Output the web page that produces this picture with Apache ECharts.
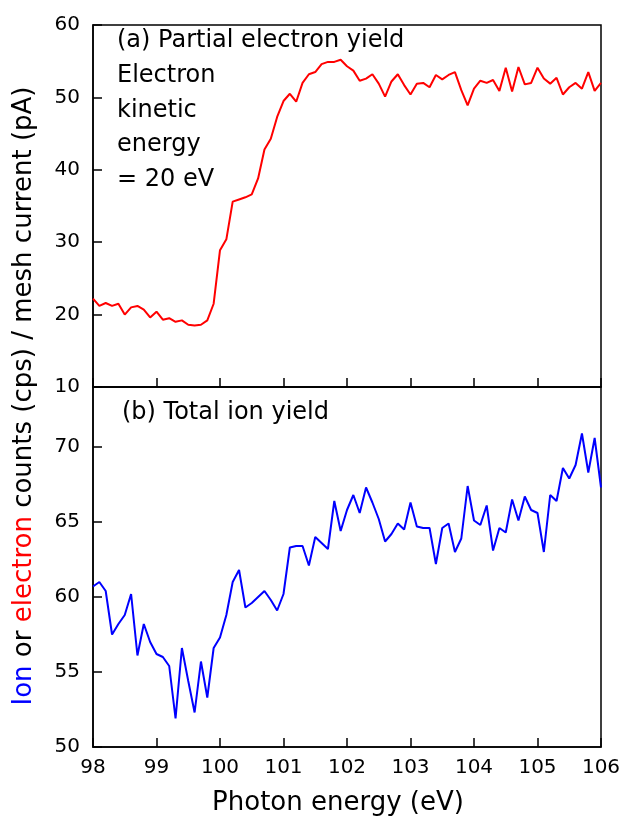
<!DOCTYPE html>
<html>
<head>
<meta charset="utf-8">
<script src="https://cdn.jsdelivr.net/npm/echarts@6/dist/echarts.min.js"></script>
<style>html,body{margin:0;padding:0;background:#fff;}#c{width:624px;height:821px;}</style>
</head>
<body>
<div id="c"></div>
<script>
var energies = [98.0,98.1,98.2,98.3,98.4,98.5,98.6,98.7,98.8,98.9,
  99.0,99.1,99.2,99.3,99.4,99.5,99.6,99.7,99.8,99.9,
  100.0,100.1,100.2,100.3,100.4,100.5,100.6,100.7,100.8,100.9,
  101.0,101.1,101.2,101.3,101.4,101.5,101.6,101.7,101.8,101.9,
  102.0,102.1,102.2,102.3,102.4,102.5,102.6,102.7,102.8,102.9,
  103.0,103.1,103.2,103.3,103.4,103.5,103.6,103.7,103.8,103.9,
  104.0,104.1,104.2,104.3,104.4,104.5,104.6,104.7,104.8,104.9,
  105.0,105.1,105.2,105.3,105.4,105.5,105.6,105.7,105.8,105.9,106.0];

var electronYield = [22.2,21.2,21.6,21.2,21.5,20.0,21.0,21.2,20.7,19.6,
  20.4,19.3,19.5,19.0,19.2,18.6,18.5,18.6,19.2,21.5,
  28.9,30.4,35.6,35.9,36.2,36.6,38.8,42.8,44.3,47.3,
  49.5,50.5,49.4,52.0,53.2,53.5,54.6,54.9,54.9,55.2,
  54.3,53.7,52.3,52.6,53.2,51.9,50.1,52.2,53.2,51.7,
  50.4,51.9,52.0,51.4,53.1,52.5,53.1,53.5,51.0,48.9,
  51.2,52.3,52.0,52.4,50.9,54.1,50.8,54.2,51.8,52.0,
  54.1,52.6,51.9,52.7,50.4,51.4,52.0,51.2,53.5,50.9,52.0];

var ionYield = [60.7,61.0,60.4,57.5,58.2,58.8,60.2,56.1,58.2,57.0,
  56.2,56.0,55.4,51.9,56.6,54.4,52.3,55.7,53.3,56.6,
  57.3,58.8,61.0,61.8,59.3,59.6,60.0,60.4,59.8,59.1,
  60.2,63.3,63.4,63.4,62.1,64.0,63.6,63.2,66.4,64.4,
  65.8,66.8,65.6,67.3,66.3,65.2,63.7,64.2,64.9,64.5,
  66.3,64.7,64.6,64.6,62.2,64.6,64.9,63.0,63.9,67.4,
  65.1,64.8,66.1,63.1,64.6,64.3,66.5,65.1,66.7,65.8,
  65.6,63.0,66.8,66.4,68.6,67.9,68.8,70.9,68.3,70.6,67.3];

var xTicks = {min: 98, max: 106, interval: 1};
var yTopTicks = {min: 10, max: 60, interval: 10};
var yBottomTicks = {min: 50, max: 74, interval: 5};

var xTitle = 'Photon energy (eV)';
var panelA = ['(a) Partial electron yield', 'Electron', 'kinetic', 'energy', '= 20 eV'];
var panelB = '(b) Total ion yield';

var FONT = 'DejaVu Sans';

function pairs(xs, ys) { return xs.map(function (x, i) { return [x, ys[i]]; }); }

var chart = echarts.init(document.getElementById('c'), null, {renderer: 'canvas'});

function xAxisCfg(idx, showLabels) {
  return {
    type: 'value', gridIndex: idx, min: xTicks.min, max: xTicks.max, interval: xTicks.interval,
    axisLine: {show: true, onZero: false, lineStyle: {color: '#000', width: 1.5}},
    axisTick: {show: true, inside: true, length: 9, lineStyle: {color: '#000', width: 1.5}},
    axisLabel: {show: showLabels, color: '#000', fontFamily: FONT, fontSize: 20, margin: 11},
    splitLine: {show: false},
    name: showLabels ? xTitle : '',
    nameLocation: 'middle', nameGap: 43,
    nameTextStyle: {color: '#000', fontFamily: FONT, fontSize: 26, padding: [0, 18, 0, 0]}
  };
}
function yAxisCfg(idx, t) {
  return {
    type: 'value', gridIndex: idx, min: t.min, max: t.max, interval: t.interval,
    axisLine: {show: true, onZero: false, lineStyle: {color: '#000', width: 1.5}},
    axisTick: {show: true, inside: true, length: 9, lineStyle: {color: '#000', width: 1.5}},
    axisLabel: {color: '#000', fontFamily: FONT, fontSize: 20, margin: 13,
      showMaxLabel: idx === 0 ? true : false, showMinLabel: true},
    splitLine: {show: false}
  };
}

var annot = [];
annot.push({type: 'text', left: 117, top: 29, style: {text: panelA[0], font: '24px "' + FONT + '"', fill: '#000'}});
for (var i = 1; i < panelA.length; i++) {
  annot.push({type: 'text', left: 117, top: 29 + i * 34.7, style: {text: panelA[i], font: '24px "' + FONT + '"', fill: '#000'}});
}
annot.push({type: 'text', left: 122, top: 401, style: {text: panelB, font: '24px "' + FONT + '"', fill: '#000'}});
annot.push({
  type: 'text', x: 24, y: 396, rotation: Math.PI / 2,
  style: {
    text: '{b|Ion} or {r|electron} counts (cps) / mesh current (pA)',
    align: 'center', verticalAlign: 'middle',
    fontFamily: FONT, fontSize: 26, fill: '#000',
    rich: {
      b: {fill: '#0000ff', fontFamily: FONT, fontSize: 26},
      r: {fill: '#ff0000', fontFamily: FONT, fontSize: 26}
    }
  }
});

chart.setOption({
  animation: false,
  backgroundColor: '#fff',
  grid: [
    {left: 93, top: 25, width: 508, height: 362, show: true, borderColor: '#000', borderWidth: 1.5, backgroundColor: 'transparent'},
    {left: 93, top: 387, width: 508, height: 360, show: true, borderColor: '#000', borderWidth: 1.5, backgroundColor: 'transparent'}
  ],
  xAxis: [xAxisCfg(0, false), xAxisCfg(1, true)],
  yAxis: [yAxisCfg(0, yTopTicks), yAxisCfg(1, yBottomTicks)],
  series: [
    {type: 'line', xAxisIndex: 0, yAxisIndex: 0, data: pairs(energies, electronYield),
      showSymbol: false, symbol: 'none', lineStyle: {color: '#ff0000', width: 2}, itemStyle: {color: '#ff0000'}},
    {type: 'line', xAxisIndex: 1, yAxisIndex: 1, data: pairs(energies, ionYield),
      showSymbol: false, symbol: 'none', lineStyle: {color: '#0000ff', width: 2}, itemStyle: {color: '#0000ff'}}
  ],
  graphic: annot
});
</script>
</body>
</html>
